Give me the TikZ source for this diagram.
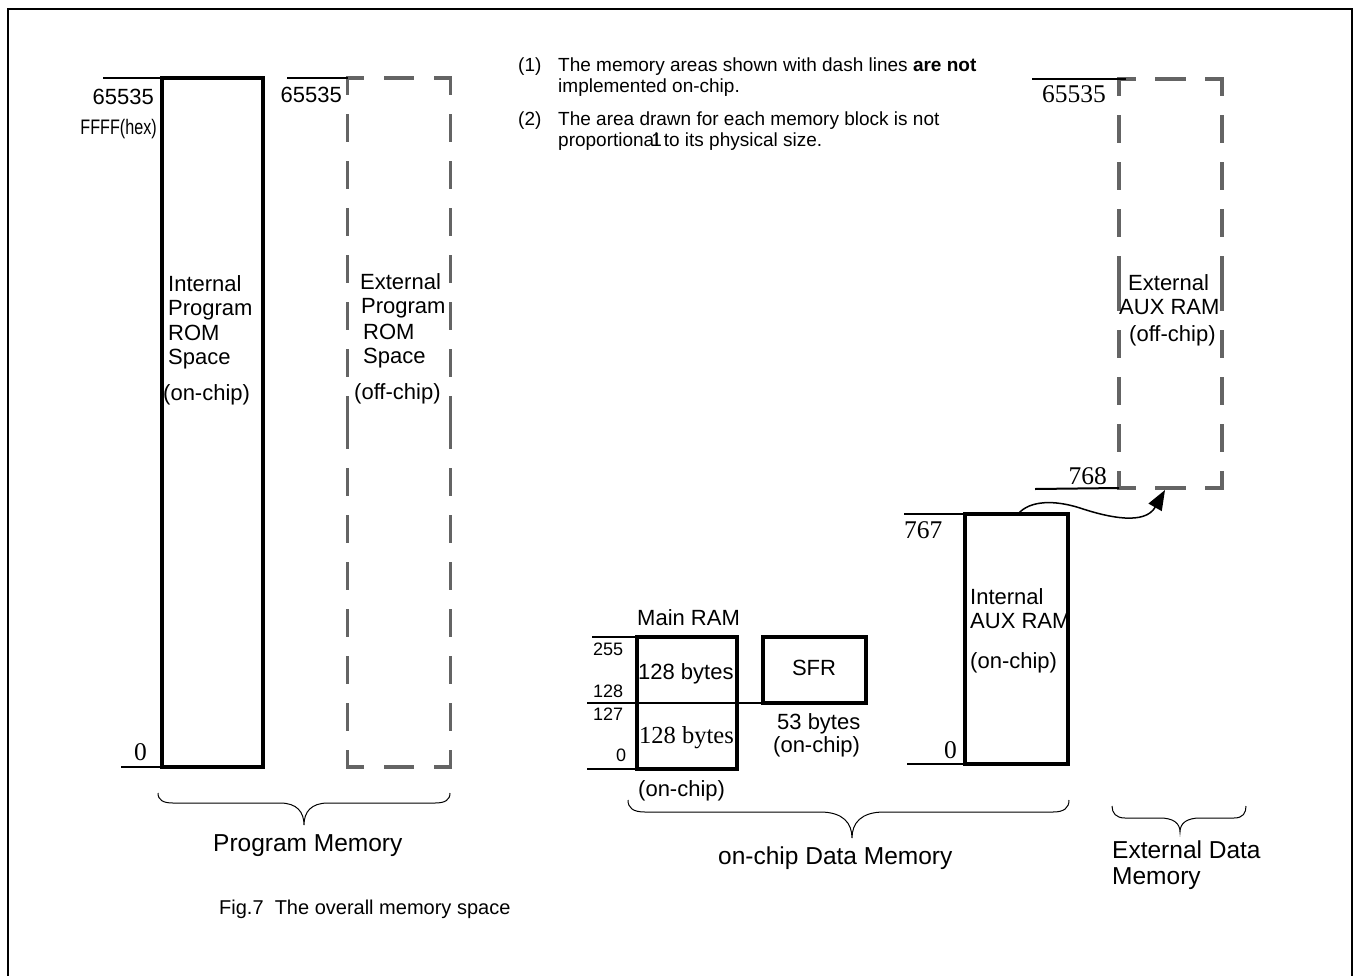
\documentclass[tikz,border=0pt]{standalone}
\usepackage{fontspec}
\setmainfont{Liberation Sans}
\newfontfamily\tms{Liberation Serif}
\usetikzlibrary{arrows.meta}
\definecolor{dashgray}{HTML}{646464}
\begin{document}
\begin{tikzpicture}[x=1pt,y=-1pt,
 txt/.style={inner sep=0pt, font=\fontsize{22}{26}\selectfont},
 note/.style={inner sep=0pt, font=\fontsize{19}{22}\selectfont},
 small/.style={inner sep=0pt, font=\fontsize{18}{21}\selectfont},
 big/.style={inner sep=0pt, font=\fontsize{24.5}{28}\selectfont},
 capt/.style={inner sep=0pt, font=\fontsize{20}{24}\selectfont},
 num/.style={inner sep=0pt, font=\tms\fontsize{25.5}{30}\selectfont},
 membox/.style={draw=black, line width=3.5pt, inner sep=0pt, outer sep=0pt},
 ghost/.style={inner sep=0pt, outer sep=0pt},
 tick/.style={draw=black, line width=2pt},
 dsh/.style={draw=dashgray, line width=3.2pt, line cap=rect, dash pattern=on 24pt off 23pt, dash phase=9pt},
 bracestyle/.style={draw=black, line width=1pt},
]
\useasboundingbox (0,0) rectangle (1355,975);
% frame
\draw[line width=2.2pt] (8,980) -- (8,9) -- (1352,9) -- (1352,980);

% ---------- Program memory ----------
\node[membox, minimum width=101pt, minimum height=689pt] (irom) at (212.5,422.5) {};
\node[ghost, minimum width=102.5pt, minimum height=689pt] (erom) at (399,422.5) {};
\foreach \c/\m in {north west/west, south west/west, north east/east, south east/east,
                   north west/north, north east/north, south west/south, south east/south}
  \draw[dsh] (erom.\c) -- (erom.\m);

\coordinate (t1) at (103,78);
\coordinate (t2) at (121,767);
\coordinate (t3) at (287,78);
\draw[tick] (t1) -- (irom.north west);
\draw[tick] (t2) -- (irom.south west);
\draw[tick] (t3) -- (erom.north west);

\node[txt, anchor=base east] (n65a) at (154,104) {65535};
\node[txt, anchor=base east, font=\fontsize{21}{24}\selectfont] (nffff) at (157,134) {\scalebox{0.77}[1]{FFFF(hex)}};
\node[num, anchor=base west] (n0a) at (134,760) {0};
\node[txt, anchor=base east] (n65b) at (342,102) {65535};

\node[txt, anchor=base west] (ir1) at (168,291) {Internal};
\node[txt, anchor=base west] (ir2) at (168,315) {Program};
\node[txt, anchor=base west] (ir3) at (168,340) {ROM};
\node[txt, anchor=base west] (ir4) at (168,364) {Space};
\node[txt, anchor=base west] (ir5) at (163,400) {(on-chip)};

\node[txt, anchor=base west] (er1) at (360,289) {External};
\node[txt, anchor=base west] (er2) at (361,313) {Program};
\node[txt, anchor=base west] (er3) at (363,339) {ROM};
\node[txt, anchor=base west] (er4) at (363,363) {Space};
\node[txt, anchor=base west] (er5) at (354,399) {(off-chip)};

% ---------- notes ----------
\node[note, anchor=base west] (nt1a) at (518,71) {(1)};
\node[note, anchor=base west] (nt1b) at (558,71) {The memory areas shown with dash lines \textbf{are not}};
\node[note, anchor=base west] (nt1c) at (558,92) {implemented on-chip.};
\node[note, anchor=base west] (nt2a) at (518,125) {(2)};
\node[note, anchor=base west] (nt2b) at (558,125) {The area drawn for each memory block is not};
\node[note, anchor=base west] (nt2c) at (558,146) {proportiona\kern-3pt\rlap{1}\kern3pt l to its physical size.};

% ---------- External AUX RAM ----------
\node[ghost, minimum width=103pt, minimum height=409pt] (eaux) at (1170.5,283.5) {};
\foreach \c/\m in {north west/west, south west/west, north east/east, south east/east,
                   north west/north, north east/north, south west/south, south east/south}
  \draw[dsh] (eaux.\c) -- (eaux.\m);
\coordinate (t4) at (1032,79);
\coordinate (t4b) at (1126,79);
\draw[tick] (t4) -- (t4b);
\node[num, anchor=base east] (n65c) at (1106,102) {65535};
\coordinate (t5) at (1035,489);
\draw[tick] (t5) -- (eaux.south west);
\node[num, anchor=base east] (n768) at (1107,484) {768};
\node[txt, anchor=base west] (ea1) at (1128,290) {External};
\node[txt, anchor=base west] (ea2) at (1119,314) {AUX RAM};
\node[txt, anchor=base west] (ea3) at (1129,341) {(off-chip)};

% ---------- Internal AUX RAM ----------
\node[membox, minimum width=103pt, minimum height=250pt] (iaux) at (1016.5,639) {};
\coordinate (t6) at (904,514);
\coordinate (t7) at (907,764);
\draw[tick] (t6) -- (iaux.north west);
\draw[tick] (t7) -- (iaux.south west);
\node[num, anchor=base west] (n767) at (904,538) {767};
\node[num, anchor=base west] (n0c) at (944,758) {0};
\node[txt, anchor=base west] (ia1) at (970,604) {Internal};
\node[txt, anchor=base west] (ia2) at (970,628) {AUX RAM};
\node[txt, anchor=base west] (ia3) at (970,668) {(on-chip)};

\coordinate (arS) at (1018,514);
\coordinate (arE) at (1165,490);
\draw[line width=1.5pt, -{Triangle[length=20pt,width=15pt]}]
  (arS) .. controls (1030,500) and (1055,500) .. (1080,508)
        .. controls (1110,518) and (1145,525) .. (arE);

% ---------- Main RAM & SFR ----------
\node[membox, minimum width=100pt, minimum height=132pt] (mram) at (687,703) {};
\node[membox, minimum width=103pt, minimum height=66pt] (sfr) at (814.5,670) {};
\coordinate (t8) at (587,703);
\coordinate (t9) at (592,637);
\coordinate (t10) at (587,769);
\draw[tick] (t8) -- (sfr.south west);
\draw[tick] (t9) -- (mram.north west);
\draw[tick] (t10) -- (mram.south west);

\node[txt, anchor=base west] (mr) at (637,625) {Main RAM};
\node[small, anchor=base west] (n255) at (593,655) {255};
\node[small, anchor=base west] (n128) at (593,697) {128};
\node[small, anchor=base west] (n127) at (593,720) {127};
\node[small, anchor=base west] (n0b) at (616,761) {0};
\node[txt, anchor=base west] (b1) at (638,679) {128 bytes};
\node[inner sep=0pt, font=\tms\fontsize{24.5}{28}\selectfont, anchor=base west] (b2) at (639,743) {128 bytes};
\node[txt, anchor=base west] (oc1) at (638,796) {(on-chip)};
\node[txt, anchor=base] (sfrl) at (814,675) {SFR};
\node[txt, anchor=base west] (s53) at (777,729) {53 bytes};
\node[txt, anchor=base west] (oc2) at (773,752) {(on-chip)};

% ---------- braces ----------
\draw[bracestyle] (158,793) .. controls (158,800) and (163,803) .. (173,803) -- (280,803)
  .. controls (297,803) and (304,812) .. (304,825)
  .. controls (304,812) and (311,803) .. (328,803) -- (435,803)
  .. controls (445,803) and (450,800) .. (450,793);
\draw[bracestyle] (628,800) .. controls (628,808) and (633,812) .. (645,812) -- (820,812)
  .. controls (843,812) and (852,823) .. (852,838)
  .. controls (852,823) and (861,812) .. (884,812) -- (1053,812)
  .. controls (1064,812) and (1069,808) .. (1069,800);
\draw[bracestyle] (1112,806) .. controls (1112,813) and (1116,818) .. (1125,818) -- (1160,818)
  .. controls (1173,818) and (1180,823) .. (1180,832)
  .. controls (1180,823) and (1187,818) .. (1200,818) -- (1234,818)
  .. controls (1243,818) and (1246,813) .. (1246,806);

\node[big, anchor=base west] (pm) at (213,851) {Program Memory};
\node[big, anchor=base west] (dm) at (718,864) {on-chip Data Memory};
\node[big, anchor=base west] (ed1) at (1112,858) {External Data};
\node[big, anchor=base west] (ed2) at (1112,884) {Memory};
\node[capt, anchor=base west] (cap) at (219,914) {Fig.7\ \ The overall memory space};
\end{tikzpicture}
\end{document}
